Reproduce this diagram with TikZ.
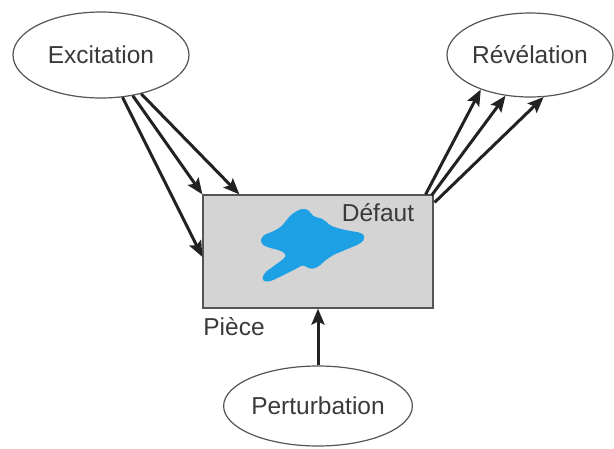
\documentclass[tikz,border=0pt]{standalone}
\usepackage{fontspec}
\setmainfont{Liberation Sans}
\usetikzlibrary{shapes.geometric,arrows.meta,calc}
\definecolor{txt}{HTML}{3A3A3A}
\definecolor{edge}{HTML}{555555}
\definecolor{boxfill}{HTML}{D4D4D4}
\definecolor{blob}{RGB}{30,160,228}
\definecolor{arr}{HTML}{222222}
\tikzset{
  oval/.style={ellipse, draw=edge, line width=1.2pt, fill=white, inner sep=0pt, text=txt,
     font=\fontsize{24.5}{28}\selectfont},
  lbl/.style={text=txt, font=\fontsize{24.5}{28}\selectfont, inner sep=0pt},
  flow/.style={draw=arr, line width=3pt, -{Stealth[length=16pt,width=13pt,inset=3pt]}},
}
\begin{document}
\begin{tikzpicture}[x=1pt,y=-1pt]
\useasboundingbox (0,0) rectangle (614,448);
\fill[white] (0,0) rectangle (614,448);
\node[draw=edge, line width=1.2pt, fill=boxfill, minimum width=230pt, minimum height=113pt, inner sep=0pt] (piece) at (318,251.5) {};
\begin{scope}[shift={(245,200)}, x=1/3pt, y=-1/3pt]
\fill[blob, rounded corners=4pt]
 (140,42) -- (170,25) -- (194,30) -- (202,50) -- (220,52) -- (240,60) -- (250,74)
 -- (275,84) -- (315,93) -- (350,98) -- (362,113) -- (348,130) -- (305,148)
 -- (262,166) -- (236,185) -- (218,203) -- (190,208) -- (178,192) -- (150,208)
 -- (110,228) -- (72,246) -- (50,243) -- (56,220) -- (92,194) -- (122,172)
 -- (125,162) -- (102,150) -- (70,143) -- (45,130) -- (52,106) -- (86,94)
 -- (112,78) -- (126,58) -- cycle;
\end{scope}
\node[lbl] (defaut) at (378,213) {Défaut};
\node[lbl] (piecelbl) at (234,327) {Pièce};
\node[oval, minimum width=176pt, minimum height=86pt] (exc) at (101,55) {Excitation};
\node[oval, minimum width=166pt, minimum height=84pt] (rev) at (530,55) {Révélation};
\node[oval, minimum width=188pt, minimum height=80pt] (pert) at (318,406) {Perturbation};
% Excitation arrows
\draw[flow] (exc.-63) -- ($(piece.west)+(0,5.5)$);
\draw[flow] (exc.-52) -- (piece.north west);
\draw[flow] (exc.-44) -- ($(piece.north west)+(37,0)$);
% Revelation arrows
\draw[flow] ($(piece.north east)+(-8,0)$) -- (rev.-145);
\draw[flow] ($(piece.north east)+(-2,1)$) -- (rev.-121);
\draw[flow] ($(piece.north east)+(1,8)$) -- (rev.-72);
% Perturbation
\draw[flow] (pert.north) -- (piece.south);
\end{tikzpicture}
\end{document}
